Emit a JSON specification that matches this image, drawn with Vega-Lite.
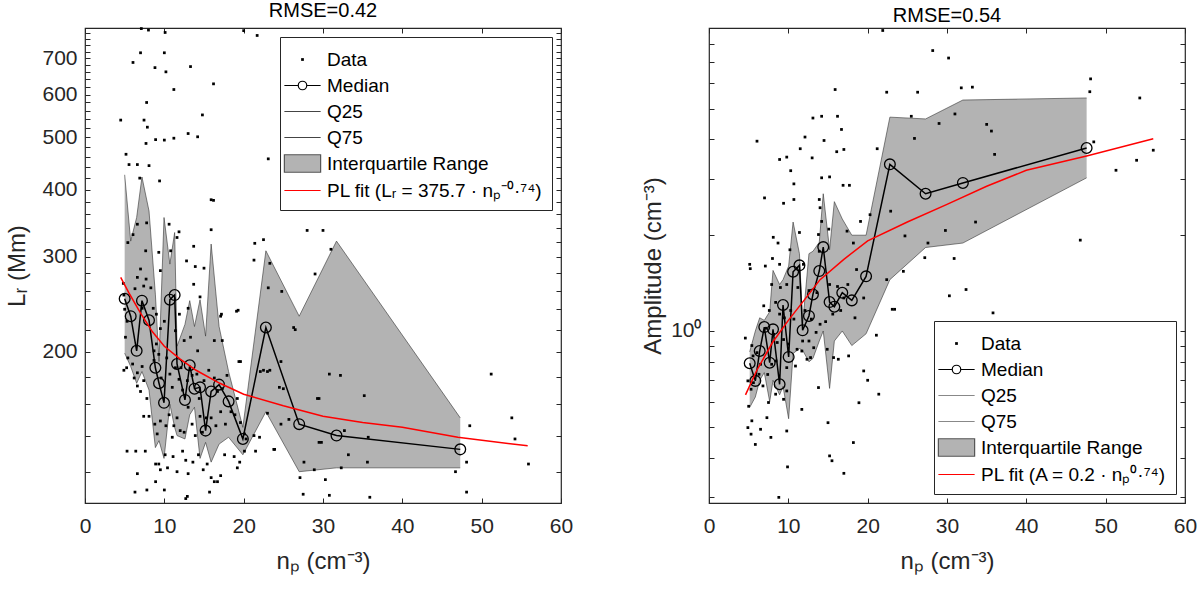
{
  "$schema": "https://vega.github.io/schema/vega-lite/v6.json",
  "background": "white",
  "padding": {"left": 5, "top": 0, "right": 10, "bottom": 5},
  "datasets": {
    "left": [
      {"s": "Data", "np": 7.1, "v": 795}, {"s": "Data", "np": 8.0, "v": 790}, {"s": "Data", "np": 10.1, "v": 782}, {"s": "Data", "np": 20.0, "v": 788}, {"s": "Data", "np": 21.7, "v": 772},
      {"s": "Data", "np": 7.0, "v": 717}, {"s": "Data", "np": 10.0, "v": 717}, {"s": "Data", "np": 6.05, "v": 688}, {"s": "Data", "np": 8.82, "v": 673}, {"s": "Data", "np": 13.3, "v": 676},
      {"s": "Data", "np": 10.2, "v": 661}, {"s": "Data", "np": 16.2, "v": 628}, {"s": "Data", "np": 11.2, "v": 613}, {"s": "Data", "np": 7.77, "v": 580}, {"s": "Data", "np": 4.5, "v": 538},
      {"s": "Data", "np": 14.8, "v": 550}, {"s": "Data", "np": 7.44, "v": 538}, {"s": "Data", "np": 7.86, "v": 522}, {"s": "Data", "np": 7.69, "v": 487}, {"s": "Data", "np": 8.9, "v": 495},
      {"s": "Data", "np": 10.0, "v": 494}, {"s": "Data", "np": 11.2, "v": 498}, {"s": "Data", "np": 13.0, "v": 508}, {"s": "Data", "np": 14.2, "v": 501}, {"s": "Data", "np": 23.1, "v": 456},
      {"s": "Data", "np": 5.17, "v": 465}, {"s": "Data", "np": 5.55, "v": 445}, {"s": "Data", "np": 6.6, "v": 445}, {"s": "Data", "np": 8.07, "v": 443}, {"s": "Data", "np": 9.4, "v": 415},
      {"s": "Data", "np": 6.9, "v": 420}, {"s": "Data", "np": 15.9, "v": 383}, {"s": "Data", "np": 16.2, "v": 382}, {"s": "Data", "np": 15.9, "v": 337}, {"s": "Data", "np": 28.0, "v": 336},
      {"s": "Data", "np": 30.0, "v": 336}, {"s": "Data", "np": 22.5, "v": 323}, {"s": "Data", "np": 21.4, "v": 318}, {"s": "Data", "np": 31.0, "v": 310}, {"s": "Data", "np": 21.3, "v": 296},
      {"s": "Data", "np": 23.3, "v": 292}, {"s": "Data", "np": 29.0, "v": 279}, {"s": "Data", "np": 23.1, "v": 263}, {"s": "Data", "np": 24.8, "v": 259},
      {"s": "Data", "np": 19.3, "v": 239}, {"s": "Data", "np": 17.2, "v": 235}, {"s": "Data", "np": 26.5, "v": 220}, {"s": "Data", "np": 19.6, "v": 192}, {"s": "Data", "np": 22.5, "v": 185},
      {"s": "Data", "np": 23.3, "v": 185}, {"s": "Data", "np": 32.2, "v": 181}, {"s": "Data", "np": 51.2, "v": 182}, {"s": "Data", "np": 25.0, "v": 171}, {"s": "Data", "np": 29.5, "v": 164},
      {"s": "Data", "np": 35.2, "v": 166}, {"s": "Data", "np": 53.8, "v": 151}, {"s": "Data", "np": 48.5, "v": 146}, {"s": "Data", "np": 32.7, "v": 143}, {"s": "Data", "np": 54.2, "v": 138},
      {"s": "Data", "np": 35.7, "v": 139}, {"s": "Data", "np": 29.8, "v": 136}, {"s": "Data", "np": 23.9, "v": 132}, {"s": "Data", "np": 33.2, "v": 129}, {"s": "Data", "np": 35.6, "v": 125},
      {"s": "Data", "np": 55.9, "v": 124}, {"s": "Data", "np": 48.1, "v": 125}, {"s": "Data", "np": 28.9, "v": 121}, {"s": "Data", "np": 32.3, "v": 122}, {"s": "Data", "np": 46.7, "v": 120},
      {"s": "Data", "np": 27.1, "v": 117}, {"s": "Data", "np": 30.3, "v": 116}, {"s": "Data", "np": 48.1, "v": 110}, {"s": "Data", "np": 27.5, "v": 109}, {"s": "Data", "np": 30.8, "v": 108.5},
      {"s": "Data", "np": 35.9, "v": 107.6}, {"s": "Data", "np": 12.9, "v": 108},
      {"s": "Data", "np": 5.4, "v": 319}, {"s": "Data", "np": 6.05, "v": 330}, {"s": "Data", "np": 6.6, "v": 345}, {"s": "Data", "np": 7.0, "v": 285}, {"s": "Data", "np": 7.65, "v": 308},
      {"s": "Data", "np": 7.77, "v": 347}, {"s": "Data", "np": 4.83, "v": 268}, {"s": "Data", "np": 4.9, "v": 255}, {"s": "Data", "np": 5.0, "v": 240}, {"s": "Data", "np": 5.3, "v": 228},
      {"s": "Data", "np": 6.6, "v": 275}, {"s": "Data", "np": 7.4, "v": 265}, {"s": "Data", "np": 6.3, "v": 262}, {"s": "Data", "np": 7.2, "v": 241}, {"s": "Data", "np": 7.7, "v": 273},
      {"s": "Data", "np": 8.3, "v": 263}, {"s": "Data", "np": 8.6, "v": 241}, {"s": "Data", "np": 9.3, "v": 306}, {"s": "Data", "np": 9.5, "v": 283}, {"s": "Data", "np": 9.0, "v": 235},
      {"s": "Data", "np": 9.5, "v": 221}, {"s": "Data", "np": 10.0, "v": 228}, {"s": "Data", "np": 10.6, "v": 345}, {"s": "Data", "np": 11.85, "v": 334}, {"s": "Data", "np": 11.6, "v": 326},
      {"s": "Data", "np": 10.8, "v": 308}, {"s": "Data", "np": 12.8, "v": 295}, {"s": "Data", "np": 13.7, "v": 314}, {"s": "Data", "np": 13.9, "v": 288}, {"s": "Data", "np": 13.7, "v": 267},
      {"s": "Data", "np": 15.0, "v": 286}, {"s": "Data", "np": 14.5, "v": 253}, {"s": "Data", "np": 13.0, "v": 241}, {"s": "Data", "np": 11.9, "v": 235}, {"s": "Data", "np": 11.4, "v": 219},
      {"s": "Data", "np": 12.5, "v": 210}, {"s": "Data", "np": 13.3, "v": 213}, {"s": "Data", "np": 14.2, "v": 201}, {"s": "Data", "np": 17.1, "v": 233}, {"s": "Data", "np": 19.1, "v": 238},
      {"s": "Data", "np": 19.4, "v": 192}, {"s": "Data", "np": 16.3, "v": 210}, {"s": "Data", "np": 17.3, "v": 210}, {"s": "Data", "np": 5.1, "v": 213}, {"s": "Data", "np": 5.4, "v": 195},
      {"s": "Data", "np": 4.9, "v": 185}, {"s": "Data", "np": 5.25, "v": 187}, {"s": "Data", "np": 6.0, "v": 190}, {"s": "Data", "np": 6.2, "v": 179}, {"s": "Data", "np": 6.6, "v": 183},
      {"s": "Data", "np": 7.2, "v": 188}, {"s": "Data", "np": 7.4, "v": 177}, {"s": "Data", "np": 6.6, "v": 173}, {"s": "Data", "np": 7.0, "v": 169}, {"s": "Data", "np": 7.8, "v": 164},
      {"s": "Data", "np": 8.7, "v": 201}, {"s": "Data", "np": 9.0, "v": 207}, {"s": "Data", "np": 8.7, "v": 193}, {"s": "Data", "np": 9.3, "v": 198}, {"s": "Data", "np": 9.6, "v": 179},
      {"s": "Data", "np": 10.3, "v": 195}, {"s": "Data", "np": 10.7, "v": 182}, {"s": "Data", "np": 11.0, "v": 172}, {"s": "Data", "np": 11.4, "v": 187}, {"s": "Data", "np": 12.1, "v": 187},
      {"s": "Data", "np": 11.85, "v": 178}, {"s": "Data", "np": 12.3, "v": 170}, {"s": "Data", "np": 12.9, "v": 177}, {"s": "Data", "np": 13.5, "v": 181}, {"s": "Data", "np": 14.1, "v": 182},
      {"s": "Data", "np": 14.4, "v": 164}, {"s": "Data", "np": 15.0, "v": 177}, {"s": "Data", "np": 15.6, "v": 185}, {"s": "Data", "np": 16.3, "v": 179}, {"s": "Data", "np": 16.7, "v": 169},
      {"s": "Data", "np": 17.3, "v": 171}, {"s": "Data", "np": 17.9, "v": 181}, {"s": "Data", "np": 18.4, "v": 155}, {"s": "Data", "np": 19.2, "v": 164}, {"s": "Data", "np": 8.07, "v": 152},
      {"s": "Data", "np": 7.4, "v": 152}, {"s": "Data", "np": 8.8, "v": 147}, {"s": "Data", "np": 9.1, "v": 141}, {"s": "Data", "np": 9.5, "v": 149}, {"s": "Data", "np": 10.2, "v": 146},
      {"s": "Data", "np": 10.6, "v": 153}, {"s": "Data", "np": 11.0, "v": 139}, {"s": "Data", "np": 11.2, "v": 146}, {"s": "Data", "np": 11.6, "v": 151}, {"s": "Data", "np": 12.0, "v": 143},
      {"s": "Data", "np": 12.5, "v": 142}, {"s": "Data", "np": 13.0, "v": 158}, {"s": "Data", "np": 13.5, "v": 147}, {"s": "Data", "np": 13.9, "v": 140}, {"s": "Data", "np": 14.5, "v": 152},
      {"s": "Data", "np": 14.8, "v": 142}, {"s": "Data", "np": 15.3, "v": 151}, {"s": "Data", "np": 15.9, "v": 151}, {"s": "Data", "np": 16.5, "v": 146}, {"s": "Data", "np": 17.1, "v": 155},
      {"s": "Data", "np": 17.7, "v": 147}, {"s": "Data", "np": 18.9, "v": 153}, {"s": "Data", "np": 19.6, "v": 148}, {"s": "Data", "np": 20.1, "v": 141}, {"s": "Data", "np": 21.3, "v": 140},
      {"s": "Data", "np": 5.3, "v": 131}, {"s": "Data", "np": 6.4, "v": 131}, {"s": "Data", "np": 7.6, "v": 131}, {"s": "Data", "np": 6.6, "v": 119}, {"s": "Data", "np": 8.9, "v": 124},
      {"s": "Data", "np": 9.3, "v": 124}, {"s": "Data", "np": 8.9, "v": 115}, {"s": "Data", "np": 9.5, "v": 121}, {"s": "Data", "np": 10.1, "v": 129}, {"s": "Data", "np": 10.4, "v": 122},
      {"s": "Data", "np": 11.1, "v": 128}, {"s": "Data", "np": 11.6, "v": 120}, {"s": "Data", "np": 12.3, "v": 131}, {"s": "Data", "np": 12.7, "v": 126}, {"s": "Data", "np": 13.0, "v": 119},
      {"s": "Data", "np": 13.6, "v": 125}, {"s": "Data", "np": 14.3, "v": 129}, {"s": "Data", "np": 14.9, "v": 121}, {"s": "Data", "np": 15.4, "v": 124}, {"s": "Data", "np": 15.9, "v": 117},
      {"s": "Data", "np": 16.3, "v": 115}, {"s": "Data", "np": 16.7, "v": 115}, {"s": "Data", "np": 17.1, "v": 118}, {"s": "Data", "np": 17.6, "v": 129}, {"s": "Data", "np": 18.8, "v": 128},
      {"s": "Data", "np": 19.2, "v": 122}, {"s": "Data", "np": 19.5, "v": 125}, {"s": "Data", "np": 6.3, "v": 110}, {"s": "Data", "np": 7.8, "v": 111}, {"s": "Data", "np": 10.0, "v": 111},
      {"s": "Data", "np": 12.7, "v": 107}, {"s": "Data", "np": 15.7, "v": 110}, {"s": "Data", "np": 20.1, "v": 131}, {"s": "Data", "np": 21.5, "v": 131}, {"s": "Data", "np": 20.3, "v": 138},
      {"s": "Data", "np": 23.8, "v": 132}, {"s": "Data", "np": 22.1, "v": 184}, {"s": "Data", "np": 23.0, "v": 184}, {"s": "Data", "np": 24.5, "v": 172}, {"s": "Data", "np": 24.7, "v": 192},
      {"s": "Data", "np": 26.3, "v": 222}, {"s": "Data", "np": 27.6, "v": 125}, {"s": "Data", "np": 29.3, "v": 164}, {"s": "Data", "np": 29.5, "v": 136}, {"s": "Data", "np": 30.8, "v": 182},
      {"s": "Data", "np": 24.7, "v": 147}, {"s": "Data", "np": 25.7, "v": 150}, {"s": "Data", "np": 23.0, "v": 154}, {"s": "Data", "np": 22.0, "v": 139},
      {"s": "Median", "np": 5.0, "v": 251, "q25": 199, "q75": 426},
      {"s": "Median", "np": 5.76, "v": 233, "q25": 188, "q75": 321},
      {"s": "Median", "np": 6.51, "v": 201, "q25": 175, "q75": 355},
      {"s": "Median", "np": 7.18, "v": 249, "q25": 184, "q75": 422},
      {"s": "Median", "np": 8.07, "v": 229, "q25": 170, "q75": 365},
      {"s": "Median", "np": 8.87, "v": 187, "q25": 133, "q75": 256},
      {"s": "Median", "np": 9.33, "v": 175, "q25": 137, "q75": 192},
      {"s": "Median", "np": 9.96, "v": 161, "q25": 127, "q75": 355},
      {"s": "Median", "np": 10.7, "v": 250, "q25": 160, "q75": 291},
      {"s": "Median", "np": 11.3, "v": 255, "q25": 145, "q75": 333},
      {"s": "Median", "np": 11.6, "v": 190, "q25": 140, "q75": 205},
      {"s": "Median", "np": 12.6, "v": 163, "q25": 138, "q75": 225},
      {"s": "Median", "np": 13.2, "v": 189, "q25": 153, "q75": 249},
      {"s": "Median", "np": 13.8, "v": 171, "q25": 158, "q75": 223},
      {"s": "Median", "np": 14.5, "v": 172, "q25": 127, "q75": 250},
      {"s": "Median", "np": 15.2, "v": 143, "q25": 136, "q75": 214},
      {"s": "Median", "np": 15.9, "v": 169, "q25": 125, "q75": 317},
      {"s": "Median", "np": 16.9, "v": 174, "q25": 135, "q75": 223},
      {"s": "Median", "np": 18.1, "v": 162, "q25": 139, "q75": 184},
      {"s": "Median", "np": 19.9, "v": 138, "q25": 129, "q75": 145},
      {"s": "Median", "np": 22.8, "v": 222, "q25": 155, "q75": 308},
      {"s": "Median", "np": 27.0, "v": 147, "q25": 120, "q75": 233},
      {"s": "Median", "np": 31.7, "v": 140, "q25": 122, "q75": 321},
      {"s": "Median", "np": 47.3, "v": 132, "q25": 122, "q75": 151},
      {"s": "Fit", "np": 4.5, "v": 275}, {"s": "Fit", "np": 5.5, "v": 258}, {"s": "Fit", "np": 7, "v": 236}, {"s": "Fit", "np": 8.5, "v": 218},
      {"s": "Fit", "np": 10, "v": 205}, {"s": "Fit", "np": 12, "v": 194}, {"s": "Fit", "np": 14, "v": 185}, {"s": "Fit", "np": 17, "v": 175},
      {"s": "Fit", "np": 20, "v": 167}, {"s": "Fit", "np": 25, "v": 159}, {"s": "Fit", "np": 30, "v": 152}, {"s": "Fit", "np": 35, "v": 148},
      {"s": "Fit", "np": 40, "v": 145}, {"s": "Fit", "np": 47, "v": 139}, {"s": "Fit", "np": 55.8, "v": 134}
    ],
    "right": [
      {"s": "Data", "np": 15.9, "v": 5.74}, {"s": "Data", "np": 22.4, "v": 5.63}, {"s": "Data", "np": 26.3, "v": 5.63}, {"s": "Data", "np": 13.1, "v": 4.67}, {"s": "Data", "np": 14.2, "v": 4.73},
      {"s": "Data", "np": 16.2, "v": 4.73}, {"s": "Data", "np": 16.7, "v": 4.30}, {"s": "Data", "np": 6.05, "v": 3.95}, {"s": "Data", "np": 12.1, "v": 4.07}, {"s": "Data", "np": 14.5, "v": 3.97},
      {"s": "Data", "np": 11.5, "v": 3.74}, {"s": "Data", "np": 13.0, "v": 3.50}, {"s": "Data", "np": 8.9, "v": 3.46}, {"s": "Data", "np": 9.8, "v": 3.52}, {"s": "Data", "np": 10.3, "v": 3.19},
      {"s": "Data", "np": 16.1, "v": 3.66}, {"s": "Data", "np": 17.0, "v": 3.72}, {"s": "Data", "np": 21.2, "v": 3.74}, {"s": "Data", "np": 14.2, "v": 3.03}, {"s": "Data", "np": 15.2, "v": 3.05},
      {"s": "Data", "np": 10.7, "v": 2.90}, {"s": "Data", "np": 16.9, "v": 2.87}, {"s": "Data", "np": 17.7, "v": 2.87}, {"s": "Data", "np": 7.0, "v": 2.62}, {"s": "Data", "np": 10.7, "v": 2.59},
      {"s": "Data", "np": 9.4, "v": 2.52}, {"s": "Data", "np": 13.9, "v": 2.59}, {"s": "Data", "np": 14.0, "v": 2.44}, {"s": "Data", "np": 20.3, "v": 2.32}, {"s": "Data", "np": 22.9, "v": 2.38},
      {"s": "Data", "np": 14.2, "v": 2.21}, {"s": "Data", "np": 15.1, "v": 2.09}, {"s": "Data", "np": 11.4, "v": 2.04}, {"s": "Data", "np": 8.1, "v": 1.97}, {"s": "Data", "np": 8.7, "v": 1.89},
      {"s": "Data", "np": 13.8, "v": 2.01}, {"s": "Data", "np": 17.4, "v": 2.06}, {"s": "Data", "np": 19.1, "v": 2.21}, {"s": "Data", "np": 24.7, "v": 1.99}, {"s": "Data", "np": 18.2, "v": 1.89},
      {"s": "Data", "np": 10.2, "v": 1.80}, {"s": "Data", "np": 8.0, "v": 1.69}, {"s": "Data", "np": 5.13, "v": 1.62}, {"s": "Data", "np": 5.2, "v": 1.57}, {"s": "Data", "np": 7.1, "v": 1.60},
      {"s": "Data", "np": 8.9, "v": 1.62}, {"s": "Data", "np": 11.9, "v": 1.62}, {"s": "Data", "np": 13.9, "v": 1.78}, {"s": "Data", "np": 24.5, "v": 1.54}, {"s": "Data", "np": 18.6, "v": 1.56},
      {"s": "Data", "np": 22.4, "v": 1.45}, {"s": "Data", "np": 7.9, "v": 1.40}, {"s": "Data", "np": 9.0, "v": 1.37}, {"s": "Data", "np": 9.8, "v": 1.40}, {"s": "Data", "np": 11.2, "v": 1.37},
      {"s": "Data", "np": 12.6, "v": 1.34}, {"s": "Data", "np": 13.6, "v": 1.32}, {"s": "Data", "np": 15.2, "v": 1.40}, {"s": "Data", "np": 16.2, "v": 1.38}, {"s": "Data", "np": 17.0, "v": 1.27},
      {"s": "Data", "np": 17.5, "v": 1.40}, {"s": "Data", "np": 19.5, "v": 1.27}, {"s": "Data", "np": 23.1, "v": 1.17}, {"s": "Data", "np": 6.9, "v": 1.20}, {"s": "Data", "np": 7.6, "v": 1.16},
      {"s": "Data", "np": 8.4, "v": 1.23}, {"s": "Data", "np": 8.9, "v": 1.13}, {"s": "Data", "np": 9.5, "v": 1.10}, {"s": "Data", "np": 10.3, "v": 1.16}, {"s": "Data", "np": 10.7, "v": 1.09},
      {"s": "Data", "np": 12.1, "v": 1.16}, {"s": "Data", "np": 12.9, "v": 1.09}, {"s": "Data", "np": 13.5, "v": 0.99}, {"s": "Data", "np": 14.0, "v": 1.05}, {"s": "Data", "np": 14.7, "v": 1.07},
      {"s": "Data", "np": 15.6, "v": 1.13}, {"s": "Data", "np": 16.6, "v": 1.16}, {"s": "Data", "np": 18.4, "v": 1.10}, {"s": "Data", "np": 21.1, "v": 0.97}, {"s": "Data", "np": 7.2, "v": 1.02},
      {"s": "Data", "np": 8.15, "v": 0.976}, {"s": "Data", "np": 8.6, "v": 0.92}, {"s": "Data", "np": 9.4, "v": 0.94}, {"s": "Data", "np": 10.0, "v": 0.91}, {"s": "Data", "np": 11.1, "v": 0.876},
      {"s": "Data", "np": 11.8, "v": 0.93}, {"s": "Data", "np": 12.6, "v": 0.93}, {"s": "Data", "np": 13.2, "v": 0.886}, {"s": "Data", "np": 14.9, "v": 0.876}, {"s": "Data", "np": 15.7, "v": 0.825},
      {"s": "Data", "np": 16.3, "v": 0.815}, {"s": "Data", "np": 4.58, "v": 0.95}, {"s": "Data", "np": 5.4, "v": 0.90}, {"s": "Data", "np": 5.55, "v": 0.835}, {"s": "Data", "np": 6.05, "v": 0.855},
      {"s": "Data", "np": 6.5, "v": 0.786}, {"s": "Data", "np": 7.4, "v": 0.73}, {"s": "Data", "np": 7.9, "v": 0.786}, {"s": "Data", "np": 8.45, "v": 0.805}, {"s": "Data", "np": 9.8, "v": 0.767},
      {"s": "Data", "np": 10.9, "v": 0.776}, {"s": "Data", "np": 11.7, "v": 0.865}, {"s": "Data", "np": 12.35, "v": 0.815}, {"s": "Data", "np": 12.8, "v": 0.825}, {"s": "Data", "np": 17.6, "v": 0.835},
      {"s": "Data", "np": 19.5, "v": 0.749}, {"s": "Data", "np": 20.0, "v": 0.70}, {"s": "Data", "np": 21.4, "v": 0.633}, {"s": "Data", "np": 18.9, "v": 0.595}, {"s": "Data", "np": 4.9, "v": 0.697},
      {"s": "Data", "np": 5.3, "v": 0.656}, {"s": "Data", "np": 5.6, "v": 0.688}, {"s": "Data", "np": 6.3, "v": 0.731}, {"s": "Data", "np": 6.8, "v": 0.672}, {"s": "Data", "np": 7.5, "v": 0.596},
      {"s": "Data", "np": 8.4, "v": 0.633}, {"s": "Data", "np": 9.4, "v": 0.61}, {"s": "Data", "np": 9.8, "v": 0.648}, {"s": "Data", "np": 11.7, "v": 0.567}, {"s": "Data", "np": 13.8, "v": 0.664},
      {"s": "Data", "np": 5.0, "v": 0.58}, {"s": "Data", "np": 4.9, "v": 0.497}, {"s": "Data", "np": 5.4, "v": 0.522}, {"s": "Data", "np": 5.84, "v": 0.44}, {"s": "Data", "np": 6.5, "v": 0.491},
      {"s": "Data", "np": 7.3, "v": 0.534}, {"s": "Data", "np": 7.8, "v": 0.463}, {"s": "Data", "np": 9.8, "v": 0.485}, {"s": "Data", "np": 15.0, "v": 0.515}, {"s": "Data", "np": 18.2, "v": 0.446},
      {"s": "Data", "np": 15.2, "v": 0.405}, {"s": "Data", "np": 15.5, "v": 0.391}, {"s": "Data", "np": 17.0, "v": 0.357}, {"s": "Data", "np": 9.9, "v": 0.374}, {"s": "Data", "np": 8.8, "v": 0.30},
      {"s": "Data", "np": 5.3, "v": 0.474}, {"s": "Data", "np": 30.3, "v": 1.29}, {"s": "Data", "np": 32.4, "v": 1.35}, {"s": "Data", "np": 35.8, "v": 1.14}, {"s": "Data", "np": 23.4, "v": 1.17},
      {"s": "Data", "np": 28.2, "v": 7.61}, {"s": "Data", "np": 30.2, "v": 7.21}, {"s": "Data", "np": 31.8, "v": 5.81}, {"s": "Data", "np": 33.2, "v": 5.84}, {"s": "Data", "np": 48.1, "v": 6.2},
      {"s": "Data", "np": 48.0, "v": 5.65}, {"s": "Data", "np": 54.3, "v": 5.40}, {"s": "Data", "np": 25.5, "v": 4.73}, {"s": "Data", "np": 31.0, "v": 4.81}, {"s": "Data", "np": 29.0, "v": 4.49},
      {"s": "Data", "np": 35.0, "v": 4.46}, {"s": "Data", "np": 35.6, "v": 4.25}, {"s": "Data", "np": 25.9, "v": 4.03}, {"s": "Data", "np": 48.5, "v": 3.93}, {"s": "Data", "np": 56.0, "v": 3.70},
      {"s": "Data", "np": 36.0, "v": 3.59}, {"s": "Data", "np": 53.9, "v": 3.44}, {"s": "Data", "np": 51.3, "v": 3.2}, {"s": "Data", "np": 33.6, "v": 2.20}, {"s": "Data", "np": 29.8, "v": 2.07},
      {"s": "Data", "np": 46.8, "v": 1.93}, {"s": "Data", "np": 27.6, "v": 1.89}, {"s": "Data", "np": 27.2, "v": 1.70}, {"s": "Data", "np": 30.9, "v": 1.69}, {"s": "Data", "np": 21.9, "v": 8.8},
      {"s": "Median", "np": 5.13, "v": 0.792, "q25": 0.575, "q75": 0.86},
      {"s": "Median", "np": 5.84, "v": 0.697, "q25": 0.62, "q75": 1.0},
      {"s": "Median", "np": 6.39, "v": 0.865, "q25": 0.70, "q75": 1.1},
      {"s": "Median", "np": 6.97, "v": 1.029, "q25": 0.74, "q75": 1.08},
      {"s": "Median", "np": 7.65, "v": 0.795, "q25": 0.60, "q75": 1.15},
      {"s": "Median", "np": 8.07, "v": 1.012, "q25": 0.70, "q75": 1.55},
      {"s": "Median", "np": 8.9, "v": 0.680, "q25": 0.63, "q75": 1.40},
      {"s": "Median", "np": 9.33, "v": 1.207, "q25": 0.67, "q75": 1.45},
      {"s": "Median", "np": 10.04, "v": 0.829, "q25": 0.53, "q75": 1.6},
      {"s": "Median", "np": 10.6, "v": 1.535, "q25": 0.85, "q75": 2.2},
      {"s": "Median", "np": 11.4, "v": 1.608, "q25": 0.88, "q75": 1.75},
      {"s": "Median", "np": 11.8, "v": 1.005, "q25": 0.87, "q75": 1.05},
      {"s": "Median", "np": 12.6, "v": 1.115, "q25": 0.80, "q75": 1.75},
      {"s": "Median", "np": 13.1, "v": 1.303, "q25": 0.82, "q75": 1.78},
      {"s": "Median", "np": 13.9, "v": 1.543, "q25": 0.93, "q75": 1.9},
      {"s": "Median", "np": 14.4, "v": 1.835, "q25": 1.0, "q75": 2.7},
      {"s": "Median", "np": 15.2, "v": 1.233, "q25": 0.66, "q75": 1.8},
      {"s": "Median", "np": 15.8, "v": 1.192, "q25": 0.93, "q75": 2.55},
      {"s": "Median", "np": 16.8, "v": 1.319, "q25": 1.0, "q75": 2.25},
      {"s": "Median", "np": 18.0, "v": 1.248, "q25": 0.90, "q75": 2.0},
      {"s": "Median", "np": 19.8, "v": 1.485, "q25": 0.98, "q75": 2.0},
      {"s": "Median", "np": 22.8, "v": 3.34, "q25": 1.45, "q75": 4.7},
      {"s": "Median", "np": 27.3, "v": 2.70, "q25": 1.83, "q75": 4.64},
      {"s": "Median", "np": 32.0, "v": 2.92, "q25": 1.89, "q75": 5.32},
      {"s": "Median", "np": 47.6, "v": 3.76, "q25": 3.03, "q75": 5.40},
      {"s": "Fit", "np": 4.6, "v": 0.63}, {"s": "Fit", "np": 6, "v": 0.75}, {"s": "Fit", "np": 8, "v": 0.92}, {"s": "Fit", "np": 10, "v": 1.08},
      {"s": "Fit", "np": 12, "v": 1.25}, {"s": "Fit", "np": 14, "v": 1.45}, {"s": "Fit", "np": 17, "v": 1.68}, {"s": "Fit", "np": 20, "v": 1.92},
      {"s": "Fit", "np": 25, "v": 2.2}, {"s": "Fit", "np": 30, "v": 2.5}, {"s": "Fit", "np": 35, "v": 2.85}, {"s": "Fit", "np": 40, "v": 3.2},
      {"s": "Fit", "np": 47.6, "v": 3.55}, {"s": "Fit", "np": 56, "v": 4.02}
    ]
  },
  "hconcat": [
    {
      "width": 476,
      "height": 475,
      "title": "RMSE=0.42",
      "data": {"name": "left"},
      "layer": [
        {
          "transform": [{"filter": "datum.s === 'Median'"}],
          "mark": {"type": "area", "color": "#b3b3b3", "opacity": 1, "clip": true},
          "encoding": {
            "x": {"field": "np", "type": "quantitative", "scale": {"domain": [0, 60], "nice": false, "zero": false},
                  "axis": {"orient": "bottom", "values": [0, 10, 20, 30, 40, 50, 60], "title": "nₚ (cm⁻³)", "labelPadding": 17, "titlePadding": 13}},
            "y": {"field": "q25", "type": "quantitative", "scale": {"type": "log", "domain": [105, 797], "nice": false},
                  "axis": {"orient": "left", "title": "Lᵣ (Mm)", "labelPadding": 13, "titlePadding": 12,
                           "values": [120, 140, 160, 180, 200, 220, 240, 260, 280, 300, 320, 340, 360, 380, 400, 420, 440, 460, 480, 500, 520, 540, 560, 580, 600, 620, 640, 660, 680, 700, 720, 740, 760, 780],
                           "labelExpr": "datum.value % 100 === 0 ? datum.value : ''"}},
            "y2": {"field": "q75"}
          }
        },
        {
          "transform": [{"filter": "datum.s === 'Median'"}],
          "mark": {"type": "line", "color": "#333333", "strokeWidth": 0.6},
          "encoding": {
            "x": {"field": "np", "type": "quantitative", "axis": null},
            "y": {"field": "q25", "type": "quantitative", "axis": null}
          }
        },
        {
          "transform": [{"filter": "datum.s === 'Median'"}],
          "mark": {"type": "line", "color": "#333333", "strokeWidth": 0.6},
          "encoding": {
            "x": {"field": "np", "type": "quantitative", "axis": null},
            "y": {"field": "q75", "type": "quantitative", "axis": null}
          }
        },
        {
          "transform": [{"filter": "datum.s === 'Data'"}],
          "mark": {"type": "point", "size": 625, "strokeWidth": 1.2, "opacity": 1},
          "encoding": {
            "x": {"field": "np", "type": "quantitative", "axis": null},
            "y": {"field": "v", "type": "quantitative", "axis": null},
            "shape": {"field": "s", "type": "nominal",
                      "scale": {"domain": ["Data", "Median", "Q25", "Q75", "Interquartile Range", "PL fit (Lᵣ = 375.7 · nₚ⁻⁰·⁷⁴)"],
                                "range": ["M-0.11,-0.11H0.11V0.11H-0.11Z", "M-1.45,0H-0.34M0.34,0H1.45M0.34,0A0.34,0.34,0,1,1,-0.34,0A0.34,0.34,0,1,1,0.34,0", "M-1.45,0H1.45", "M-1.45,0H1.45", "M-1.45,-0.7H1.45V0.7H-1.45Z", "M-1.45,0H1.45"]},
                      "legend": {"title": null, "orient": "top-right", "offset": 9, "symbolSize": 625}},
            "fill": {"field": "s", "type": "nominal",
                     "scale": {"domain": ["Data", "Median", "Q25", "Q75", "Interquartile Range", "PL fit (Lᵣ = 375.7 · nₚ⁻⁰·⁷⁴)"],
                               "range": ["black", "transparent", "transparent", "transparent", "#b3b3b3", "transparent"]},
                     "legend": {"title": null, "orient": "top-right", "offset": 9, "symbolSize": 625}},
            "stroke": {"field": "s", "type": "nominal",
                       "scale": {"domain": ["Data", "Median", "Q25", "Q75", "Interquartile Range", "PL fit (Lᵣ = 375.7 · nₚ⁻⁰·⁷⁴)"],
                                 "range": ["transparent", "black", "#444444", "#444444", "#555555", "red"]},
                       "legend": {"title": null, "orient": "top-right", "offset": 9, "symbolSize": 625}}
          }
        },
        {
          "transform": [{"filter": "datum.s === 'Median'"}],
          "mark": {"type": "line", "color": "black", "strokeWidth": 1.5},
          "encoding": {
            "x": {"field": "np", "type": "quantitative", "axis": null},
            "y": {"field": "v", "type": "quantitative", "axis": null}
          }
        },
        {
          "transform": [{"filter": "datum.s === 'Median'"}],
          "mark": {"type": "point", "shape": "circle", "size": 115, "filled": false, "stroke": "black", "strokeWidth": 1.3, "opacity": 1},
          "encoding": {
            "x": {"field": "np", "type": "quantitative", "axis": null},
            "y": {"field": "v", "type": "quantitative", "axis": null}
          }
        },
        {
          "transform": [{"filter": "datum.s === 'Fit'"}],
          "mark": {"type": "line", "color": "red", "strokeWidth": 1.5},
          "encoding": {
            "x": {"field": "np", "type": "quantitative",
                  "axis": {"orient": "top", "labels": false, "title": null, "values": [0, 10, 20, 30, 40, 50, 60]}},
            "y": {"field": "v", "type": "quantitative",
                  "axis": {"orient": "right", "labels": false, "title": null,
                           "values": [120, 140, 160, 180, 200, 220, 240, 260, 280, 300, 320, 340, 360, 380, 400, 420, 440, 460, 480, 500, 520, 540, 560, 580, 600, 620, 640, 660, 680, 700, 720, 740, 760, 780]}}
          }
        }
      ],
      "resolve": {"axis": {"x": "independent", "y": "independent"}}
    },
    {
      "width": 476,
      "height": 475,
      "title": "RMSE=0.54",
      "data": {"name": "right"},
      "layer": [
        {
          "transform": [{"filter": "datum.s === 'Median'"}],
          "mark": {"type": "area", "color": "#b3b3b3", "opacity": 1, "clip": true},
          "encoding": {
            "x": {"field": "np", "type": "quantitative", "scale": {"domain": [0, 60], "nice": false, "zero": false},
                  "axis": {"orient": "bottom", "values": [0, 10, 20, 30, 40, 50, 60], "title": "nₚ (cm⁻³)", "labelPadding": 17, "titlePadding": 13}},
            "y": {"field": "q25", "type": "quantitative", "scale": {"type": "log", "domain": [0.288, 8.96], "nice": false},
                  "axis": {"orient": "left", "title": "Amplitude (cm⁻³)", "labelPadding": 13, "titlePadding": 5,
                           "values": [0.3, 0.4, 0.5, 0.6, 0.7, 0.8, 0.9, 1, 2, 3, 4, 5, 6, 7, 8],
                           "labelExpr": "datum.value === 1 ? '10⁰' : ''"}},
            "y2": {"field": "q75"}
          }
        },
        {
          "transform": [{"filter": "datum.s === 'Median'"}],
          "mark": {"type": "line", "color": "#333333", "strokeWidth": 0.6},
          "encoding": {
            "x": {"field": "np", "type": "quantitative", "axis": null},
            "y": {"field": "q25", "type": "quantitative", "axis": null}
          }
        },
        {
          "transform": [{"filter": "datum.s === 'Median'"}],
          "mark": {"type": "line", "color": "#333333", "strokeWidth": 0.6},
          "encoding": {
            "x": {"field": "np", "type": "quantitative", "axis": null},
            "y": {"field": "q75", "type": "quantitative", "axis": null}
          }
        },
        {
          "transform": [{"filter": "datum.s === 'Data'"}],
          "mark": {"type": "point", "size": 625, "strokeWidth": 1.2, "opacity": 1},
          "encoding": {
            "x": {"field": "np", "type": "quantitative", "axis": null},
            "y": {"field": "v", "type": "quantitative", "axis": null},
            "shape": {"field": "s", "type": "nominal",
                      "scale": {"domain": ["Data", "Median", "Q25", "Q75", "Interquartile Range", "PL fit (A = 0.2 · nₚ⁰·⁷⁴)"],
                                "range": ["M-0.11,-0.11H0.11V0.11H-0.11Z", "M-1.45,0H-0.34M0.34,0H1.45M0.34,0A0.34,0.34,0,1,1,-0.34,0A0.34,0.34,0,1,1,0.34,0", "M-1.45,0H1.45", "M-1.45,0H1.45", "M-1.45,-0.7H1.45V0.7H-1.45Z", "M-1.45,0H1.45"]},
                      "legend": {"title": null, "orient": "bottom-right", "offset": 9, "symbolSize": 625}},
            "fill": {"field": "s", "type": "nominal",
                     "scale": {"domain": ["Data", "Median", "Q25", "Q75", "Interquartile Range", "PL fit (A = 0.2 · nₚ⁰·⁷⁴)"],
                               "range": ["black", "transparent", "transparent", "transparent", "#b3b3b3", "transparent"]},
                     "legend": {"title": null, "orient": "bottom-right", "offset": 9, "symbolSize": 625}},
            "stroke": {"field": "s", "type": "nominal",
                       "scale": {"domain": ["Data", "Median", "Q25", "Q75", "Interquartile Range", "PL fit (A = 0.2 · nₚ⁰·⁷⁴)"],
                                 "range": ["transparent", "black", "#888888", "#888888", "#555555", "red"]},
                       "legend": {"title": null, "orient": "bottom-right", "offset": 9, "symbolSize": 625}}
          }
        },
        {
          "transform": [{"filter": "datum.s === 'Median'"}],
          "mark": {"type": "line", "color": "black", "strokeWidth": 1.5},
          "encoding": {
            "x": {"field": "np", "type": "quantitative", "axis": null},
            "y": {"field": "v", "type": "quantitative", "axis": null}
          }
        },
        {
          "transform": [{"filter": "datum.s === 'Median'"}],
          "mark": {"type": "point", "shape": "circle", "size": 115, "filled": false, "stroke": "black", "strokeWidth": 1.3, "opacity": 1},
          "encoding": {
            "x": {"field": "np", "type": "quantitative", "axis": null},
            "y": {"field": "v", "type": "quantitative", "axis": null}
          }
        },
        {
          "transform": [{"filter": "datum.s === 'Fit'"}],
          "mark": {"type": "line", "color": "red", "strokeWidth": 1.5},
          "encoding": {
            "x": {"field": "np", "type": "quantitative",
                  "axis": {"orient": "top", "labels": false, "title": null, "values": [0, 10, 20, 30, 40, 50, 60]}},
            "y": {"field": "v", "type": "quantitative",
                  "axis": {"orient": "right", "labels": false, "title": null,
                           "values": [0.3, 0.4, 0.5, 0.6, 0.7, 0.8, 0.9, 1, 2, 3, 4, 5, 6, 7, 8]}}
          }
        }
      ],
      "resolve": {"axis": {"x": "independent", "y": "independent"}}
    }
  ],
  "spacing": 148,
  "bounds": "flush",
  "resolve": {
    "scale": {"x": "independent", "y": "independent", "shape": "independent", "fill": "independent", "stroke": "independent"},
    "legend": {"shape": "independent", "fill": "independent", "stroke": "independent"}
  },
  "config": {
    "font": "Liberation Sans",
    "view": {"stroke": "#262626", "strokeWidth": 1.2},
    "title": {"fontSize": 20, "fontWeight": "normal", "color": "black", "offset": 1, "font": "Liberation Sans"},
    "axis": {
      "grid": false,
      "domain": false,
      "tickColor": "#262626",
      "tickSize": -5,
      "tickWidth": 1,
      "labelFontSize": 21,
      "labelColor": "#262626",
      "labelFont": "Liberation Sans",
      "labelOverlap": false,
      "labelFlush": false,
      "titleFontSize": 24,
      "titleFontWeight": "normal",
      "titleColor": "#262626",
      "titleFont": "Liberation Sans"
    },
    "legend": {
      "strokeColor": "#262626",
      "fillColor": "white",
      "padding": 9,
      "labelFontSize": 19,
      "labelColor": "black",
      "labelFont": "Liberation Sans",
      "symbolSize": 625,
      "symbolStrokeWidth": 1.2,
      "symbolOpacity": 1,
      "labelOffset": 11,
      "rowPadding": 2,
      "labelLimit": 400
    }
  }
}
